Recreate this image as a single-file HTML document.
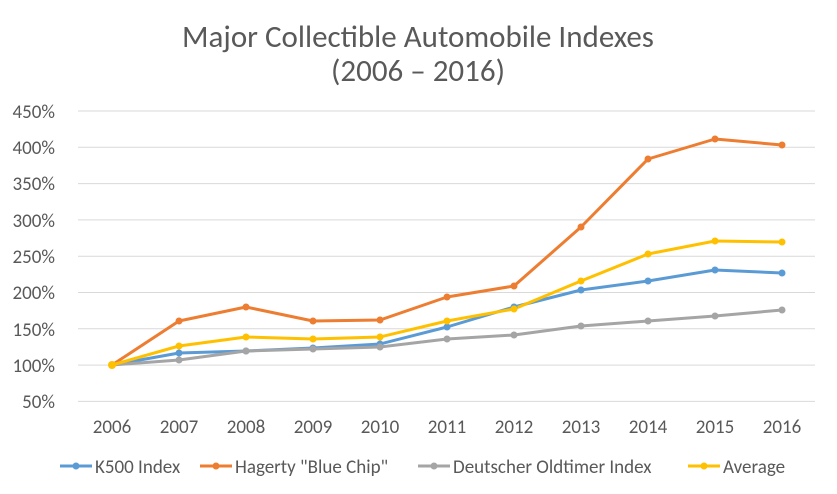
<!DOCTYPE html>
<html><head><style>body{margin:0;background:#fff}svg{display:block}</style></head><body>
<svg width="837" height="494" xmlns="http://www.w3.org/2000/svg" font-family="Calibri, Carlito, 'Liberation Sans', sans-serif">
<text x="418" y="47" text-anchor="middle" font-size="31" fill="#595959">Major Collectible Automobile Indexes</text>
<text x="418" y="81" text-anchor="middle" font-size="31" fill="#595959">(2006 – 2016)</text>
<g stroke="#d9d9d9" stroke-width="1">
<line x1="78" x2="815" y1="111" y2="111"/><line x1="78" x2="815" y1="147.3" y2="147.3"/><line x1="78" x2="815" y1="183.6" y2="183.6"/><line x1="78" x2="815" y1="219.9" y2="219.9"/><line x1="78" x2="815" y1="256.2" y2="256.2"/><line x1="78" x2="815" y1="292.5" y2="292.5"/><line x1="78" x2="815" y1="328.8" y2="328.8"/><line x1="78" x2="815" y1="365.1" y2="365.1"/><line x1="78" x2="815" y1="401.4" y2="401.4"/>
</g>
<g font-size="19" fill="#595959" text-anchor="end">
<text x="55" y="118">450%</text><text x="55" y="154">400%</text><text x="55" y="190">350%</text><text x="55" y="227">300%</text><text x="55" y="263">250%</text><text x="55" y="299">200%</text><text x="55" y="336">150%</text><text x="55" y="372">100%</text><text x="55" y="408">50%</text>
</g>
<g font-size="19" fill="#595959" text-anchor="middle">
<text x="112" y="433">2006</text><text x="179" y="433">2007</text><text x="246" y="433">2008</text><text x="313" y="433">2009</text><text x="380" y="433">2010</text><text x="447" y="433">2011</text><text x="514" y="433">2012</text><text x="581" y="433">2013</text><text x="648" y="433">2014</text><text x="715" y="433">2015</text><text x="782" y="433">2016</text>
</g>
<g fill="none" stroke-width="3" stroke-linejoin="round">
<polyline stroke="#5b9bd5" points="112,365 179,353 246,351 313,348 380,344 447,327 514,307 581,290 648,281 715,270 782,273"/>
<polyline stroke="#ed7d31" points="112,365 179,321 246,307 313,321 380,320 447,297 514,286 581,227 648,159 715,139 782,145"/>
<polyline stroke="#a5a5a5" points="112,365 179,360 246,351 313,349 380,347 447,339 514,335 581,326 648,321 715,316 782,310"/>
<polyline stroke="#ffc000" points="112,365 179,346 246,337 313,339 380,337 447,321 514,309 581,281 648,254 715,241 782,242"/>
</g>
<g fill="#5b9bd5"><circle cx="179" cy="353" r="3.5"/><circle cx="246" cy="351" r="3.5"/><circle cx="313" cy="348" r="3.5"/><circle cx="380" cy="344" r="3.5"/><circle cx="447" cy="327" r="3.5"/><circle cx="514" cy="307" r="3.5"/><circle cx="581" cy="290" r="3.5"/><circle cx="648" cy="281" r="3.5"/><circle cx="715" cy="270" r="3.5"/><circle cx="782" cy="273" r="3.5"/></g>
<g fill="#ed7d31"><circle cx="179" cy="321" r="3.5"/><circle cx="246" cy="307" r="3.5"/><circle cx="313" cy="321" r="3.5"/><circle cx="380" cy="320" r="3.5"/><circle cx="447" cy="297" r="3.5"/><circle cx="514" cy="286" r="3.5"/><circle cx="581" cy="227" r="3.5"/><circle cx="648" cy="159" r="3.5"/><circle cx="715" cy="139" r="3.5"/><circle cx="782" cy="145" r="3.5"/></g>
<g fill="#a5a5a5"><circle cx="179" cy="360" r="3.5"/><circle cx="246" cy="351" r="3.5"/><circle cx="313" cy="349" r="3.5"/><circle cx="380" cy="347" r="3.5"/><circle cx="447" cy="339" r="3.5"/><circle cx="514" cy="335" r="3.5"/><circle cx="581" cy="326" r="3.5"/><circle cx="648" cy="321" r="3.5"/><circle cx="715" cy="316" r="3.5"/><circle cx="782" cy="310" r="3.5"/></g>
<g fill="#ffc000"><circle cx="112" cy="365" r="4"/><circle cx="179" cy="346" r="3.5"/><circle cx="246" cy="337" r="3.5"/><circle cx="313" cy="339" r="3.5"/><circle cx="380" cy="337" r="3.5"/><circle cx="447" cy="321" r="3.5"/><circle cx="514" cy="309" r="3.5"/><circle cx="581" cy="281" r="3.5"/><circle cx="648" cy="254" r="3.5"/><circle cx="715" cy="241" r="3.5"/><circle cx="782" cy="242" r="3.5"/></g>
<g font-size="19" fill="#595959">
<line x1="60" x2="92" y1="466" y2="466" stroke="#5b9bd5" stroke-width="3"/><circle cx="76" cy="466" r="3.5" fill="#5b9bd5"/><text x="95" y="473">K500 Index</text>
<line x1="200" x2="232" y1="466" y2="466" stroke="#ed7d31" stroke-width="3"/><circle cx="216" cy="466" r="3.5" fill="#ed7d31"/><text x="235" y="473">Hagerty "Blue Chip"</text>
<line x1="418" x2="450" y1="466" y2="466" stroke="#a5a5a5" stroke-width="3"/><circle cx="434" cy="466" r="3.5" fill="#a5a5a5"/><text x="453" y="473">Deutscher Oldtimer Index</text>
<line x1="688" x2="720" y1="466" y2="466" stroke="#ffc000" stroke-width="3"/><circle cx="704" cy="466" r="3.5" fill="#ffc000"/><text x="723" y="473">Average</text>
</g>
</svg>
</body></html>
